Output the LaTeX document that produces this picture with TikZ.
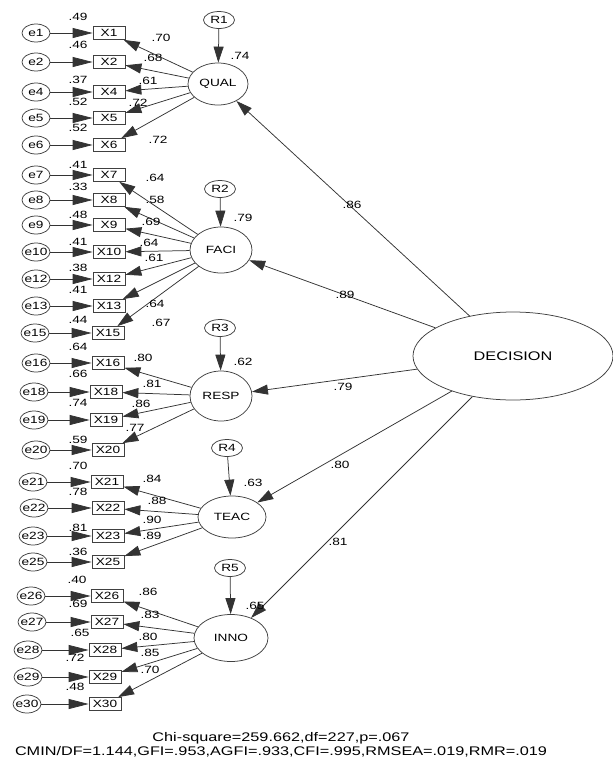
\documentclass[tikz,border=0pt]{standalone}
\usepackage{fontspec}
\setmainfont{Liberation Sans}[FakeStretch=1.3]
\usetikzlibrary{shapes.geometric,arrows.meta}
\begin{document}
\begin{tikzpicture}[x=1pt,y=-1pt,
  lbl/.style={font=\fontsize{10.5}{12}\selectfont, inner sep=0pt},
  big/.style={font=\fontsize{12.5}{14}\selectfont, inner sep=0pt},
  err/.style={ellipse, draw=black!75, line width=0.75pt, minimum width=28pt, minimum height=18pt, inner sep=-5pt, font=\fontsize{10.5}{12}\selectfont},
  obs/.style={rectangle, draw=black!75, line width=0.75pt, minimum width=32pt, minimum height=13pt, inner sep=0pt, font=\fontsize{10.5}{12}\selectfont},
  lat/.style={ellipse, draw=black!75, line width=0.75pt, inner sep=0pt, font=\fontsize{10.5}{12}\selectfont},
  arr/.style={draw=black!80, line width=0.75pt, -{Triangle[length=16pt,width=10pt]}},
  harr/.style={draw=black!80, line width=0.75pt, -{Triangle[length=20pt,width=10pt]}},
]
\useasboundingbox (0,0) rectangle (613,761);

% ---------- latent variables ----------
\node[lat, minimum width=60pt, minimum height=42pt] (QUAL) at (218,84) {QUAL};
\node[lat, minimum width=62pt, minimum height=46pt] (FACI) at (221,250) {FACI};
\node[lat, minimum width=62pt, minimum height=50pt] (RESP) at (221,396) {RESP};
\node[lat, minimum width=68pt, minimum height=42pt] (TEAC) at (232,517) {TEAC};
\node[lat, minimum width=74pt, minimum height=47pt] (INNO) at (231,638) {INNO};
\node[lat, minimum width=200pt, minimum height=88pt, font=\fontsize{12.5}{14}\selectfont] (DEC) at (513,356) {DECISION};

% ---------- disturbances ----------
\node[err, minimum width=31pt, minimum height=17pt] (R1) at (219,20) {R1};
\node[err, minimum width=31pt, minimum height=17pt] (R2) at (220,189) {R2};
\node[err, minimum width=31pt, minimum height=17pt] (R3) at (220,328) {R3};
\node[err, minimum width=31pt, minimum height=17pt] (R4) at (227,448) {R4};
\node[err, minimum width=31pt, minimum height=17pt] (R5) at (230,568) {R5};

% ---------- QUAL indicators ----------
\node[err] (e1) at (36,33) {e1};   \node[obs] (X1) at (109,33) {X1};
\node[err] (e2) at (36,62) {e2};   \node[obs] (X2) at (109,62) {X2};
\node[err] (e4) at (36,92) {e4};   \node[obs] (X4) at (109,92) {X4};
\node[err] (e5) at (36,118) {e5};  \node[obs] (X5) at (109,118) {X5};
\node[err] (e6) at (36,145) {e6};  \node[obs] (X6) at (109,145) {X6};

% ---------- FACI indicators ----------
\node[err] (e7) at (36,175) {e7};   \node[obs] (X7) at (109,175) {X7};
\node[err] (e8) at (36,200) {e8};   \node[obs] (X8) at (109,200) {X8};
\node[err] (e9) at (36,225) {e9};   \node[obs] (X9) at (109,225) {X9};
\node[err] (e10) at (36,252) {e10}; \node[obs] (X10) at (109,252) {X10};
\node[err] (e12) at (36,279) {e12}; \node[obs] (X12) at (109,279) {X12};
\node[err] (e13) at (36,306) {e13}; \node[obs] (X13) at (109,306) {X13};
\node[err] (e15) at (35,333) {e15}; \node[obs] (X15) at (108,333) {X15};

% ---------- RESP indicators ----------
\node[err] (e16) at (36,363) {e16}; \node[obs] (X16) at (108,363) {X16};
\node[err] (e18) at (34,392) {e18}; \node[obs] (X18) at (106,392) {X18};
\node[err] (e19) at (34,420) {e19}; \node[obs] (X19) at (106,420) {X19};
\node[err] (e20) at (36,450) {e20}; \node[obs] (X20) at (108,450) {X20};

% ---------- TEAC indicators ----------
\node[err] (e21) at (33,482) {e21}; \node[obs] (X21) at (107,482) {X21};
\node[err] (e22) at (34,508) {e22}; \node[obs] (X22) at (108,508) {X22};
\node[err] (e23) at (33,536) {e23}; \node[obs] (X23) at (108,536) {X23};
\node[err] (e25) at (33,562) {e25}; \node[obs] (X25) at (108,562) {X25};

% ---------- INNO indicators ----------
\node[err] (e26) at (31,596) {e26}; \node[obs] (X26) at (107,596) {X26};
\node[err] (e27) at (32,622) {e27}; \node[obs] (X27) at (107,622) {X27};
\node[err] (e28) at (28,650) {e28}; \node[obs] (X28) at (105,650) {X28};
\node[err] (e29) at (28,677) {e29}; \node[obs] (X29) at (105,677) {X29};
\node[err] (e30) at (27,704) {e30}; \node[obs] (X30) at (105,704) {X30};

% ---------- connectors ----------
\foreach \e/\x in {e1/X1,e2/X2,e4/X4,e5/X5,e6/X6,e7/X7,e8/X8,e9/X9,e10/X10,e12/X12,e13/X13,e15/X15,e16/X16,e18/X18,e19/X19,e20/X20,e21/X21,e22/X22,e23/X23,e25/X25,e26/X26,e27/X27,e28/X28,e29/X29,e30/X30}
  \draw[harr] (\e) -- (\x);
\foreach \x in {X1,X2,X4,X5,X6} \draw[arr] (QUAL) -- (\x);
\foreach \x in {X7,X8,X9,X10,X12,X13,X15} \draw[arr] (FACI) -- (\x);
\foreach \x in {X16,X18,X19,X20} \draw[arr] (RESP) -- (\x);
\foreach \x in {X21,X22,X23,X25} \draw[arr] (TEAC) -- (\x);
\foreach \x in {X26,X27,X28,X29,X30} \draw[arr] (INNO) -- (\x);
\draw[arr] (R1) -- (QUAL);
\draw[arr] (R2) -- (FACI);
\draw[arr] (R3) -- (RESP);
\draw[arr] (R4) -- (TEAC);
\draw[arr] (R5) -- (INNO);
\foreach \l in {QUAL,FACI,RESP,TEAC,INNO} \draw[arr] (DEC) -- (\l);

% ---------- estimates ----------
% squared multiple correlations of indicators
\node[lbl] (s1) at (78,17) {.49};
\node[lbl] (s2) at (78,45) {.46};
\node[lbl] (s4) at (78,80) {.37};
\node[lbl] (s5) at (78,102) {.52};
\node[lbl] (s6) at (78,128) {.52};
\node[lbl] (s7) at (78,165) {.41};
\node[lbl] (s8) at (78,187) {.33};
\node[lbl] (s9) at (78,215) {.48};
\node[lbl] (s10) at (78,242) {.41};
\node[lbl] (s12) at (78,268) {.38};
\node[lbl] (s13) at (78,290) {.41};
\node[lbl] (s15) at (78,320) {.44};
\node[lbl] (s16) at (78,347) {.64};
\node[lbl] (s18) at (78,374) {.66};
\node[lbl] (s19) at (78,403) {.74};
\node[lbl] (s20) at (78,440) {.59};
\node[lbl] (s21) at (78,466) {.70};
\node[lbl] (s22) at (78,492) {.78};
\node[lbl] (s23) at (78,528) {.81};
\node[lbl] (s25) at (78,552) {.36};
\node[lbl] (s26) at (77,580) {.40};
\node[lbl] (s27) at (78,604) {.69};
\node[lbl] (s28) at (80,633) {.65};
\node[lbl] (s29) at (75,658) {.72};
\node[lbl] (s30) at (75,687) {.48};

% loadings
\node[lbl] (l1) at (161,38) {.70};
\node[lbl] (l2) at (153,58) {.68};
\node[lbl] (l4) at (148,81) {.61};
\node[lbl] (l5) at (138,103) {.72};
\node[lbl] (l6) at (158,140) {.72};
\node[lbl] (l7) at (155,178) {.64};
\node[lbl] (l8) at (155,200) {.58};
\node[lbl] (l9) at (151,222) {.69};
\node[lbl] (l10) at (149,243) {.64};
\node[lbl] (l12) at (154,258) {.61};
\node[lbl] (l13) at (155,304) {.64};
\node[lbl] (l15) at (161,323) {.67};
\node[lbl] (l16) at (143,358) {.80};
\node[lbl] (l18) at (152,384) {.81};
\node[lbl] (l19) at (141,404) {.86};
\node[lbl] (l20) at (135,428) {.77};
\node[lbl] (l21) at (152,479) {.84};
\node[lbl] (l22) at (157,501) {.88};
\node[lbl] (l23) at (152,520) {.90};
\node[lbl] (l25) at (152,536) {.89};
\node[lbl] (l26) at (148,592) {.86};
\node[lbl] (l27) at (150,615) {.83};
\node[lbl] (l28) at (148,637) {.80};
\node[lbl] (l29) at (150,653) {.85};
\node[lbl] (l30) at (150,670) {.70};

% R-squared of latent factors
\node[lbl] (rq) at (240,56) {.74};
\node[lbl] (rf) at (243,218) {.79};
\node[lbl] (rr) at (243,362) {.62};
\node[lbl] (rt) at (253,483) {.63};
\node[lbl] (ri) at (255,606) {.65};

% structural paths
\node[lbl] (pq) at (352,205) {.86};
\node[lbl] (pf) at (345,295) {.89};
\node[lbl] (pr) at (343,387) {.79};
\node[lbl] (pt) at (340,465) {.80};
\node[lbl] (pi) at (338,542) {.81};

% fit indices
\node[big] (fit1) at (281,738) {Chi-square=259.662,df=227,p=.067};
\node[big] (fit2) at (281,752) {CMIN/DF=1.144,GFI=.953,AGFI=.933,CFI=.995,RMSEA=.019,RMR=.019};
\end{tikzpicture}
\end{document}
